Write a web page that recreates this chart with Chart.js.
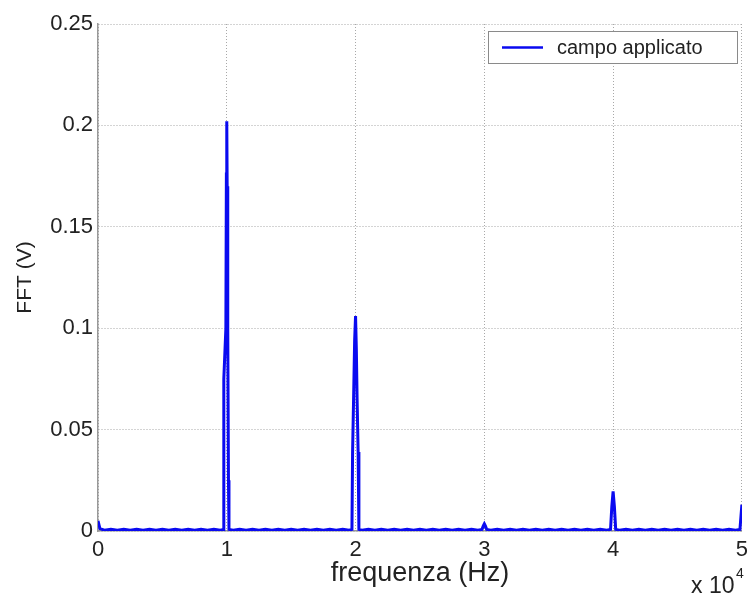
<!DOCTYPE html>
<html>
<head>
<meta charset="utf-8">
<script src="https://cdn.jsdelivr.net/npm/chart.js@4"></script>
<style>
    html, body { margin: 0; padding: 0; background: #fff; }
    #wrap { width: 754px; height: 596px; }
</style>
</head>
<body>
<div id="wrap"><canvas id="fftChart" width="754" height="596"></canvas></div>
<script>
// frequency (Hz) and FFT amplitude (V)
const freqHz = [
    0, 150, 500, 1000, 1500, 2000, 2500, 3000, 3500, 4000, 4500, 5000, 5500, 6000, 6500, 7000, 7500, 8000, 8500, 9000, 9500,
    9740, 9770, 9930, 9970, 10000, 10030, 10060, 10090, 10130, 10170,
    10500, 11000, 11500, 12000, 12500, 13000, 13500, 14000, 14500, 15000, 15500, 16000, 16500, 17000, 17500, 18000, 18500, 19000, 19500,
    19720, 19770, 19850, 19930, 20000, 20060, 20120, 20200, 20260,
    20500, 21000, 21500, 22000, 22500, 23000, 23500, 24000, 24500, 25000, 25500, 26000, 26500, 27000, 27500, 28000, 28500, 29000, 29500,
    29820, 29920, 30000, 30080, 30180,
    30500, 31000, 31500, 32000, 32500, 33000, 33500, 34000, 34500, 35000, 35500, 36000, 36500, 37000, 37500, 38000, 38500, 39000, 39500,
    39800, 39900, 40000, 40100, 40200,
    40500, 41000, 41500, 42000, 42500, 43000, 43500, 44000, 44500, 45000, 45500, 46000, 46500, 47000, 47500, 48000, 48500, 49000, 49500,
    49850, 50000
];
const fftV = [
    0.005, 0.0012, 0.0004, 0.0009, 0.0004, 0.0009, 0.0004, 0.0009, 0.0004, 0.0009, 0.0004, 0.0009, 0.0004, 0.0009, 0.0004, 0.0009, 0.0004, 0.0009, 0.0004, 0.0009, 0.0004,
    0.0008, 0.075, 0.10, 0.176, 0.202, 0.17, 0.125, 0.10, 0.025, 0.0008,
    0.0004, 0.0009, 0.0004, 0.0009, 0.0004, 0.0009, 0.0004, 0.0009, 0.0004, 0.0009, 0.0004, 0.0009, 0.0004, 0.0009, 0.0004, 0.0009, 0.0004, 0.0009, 0.0004,
    0.0008, 0.039, 0.066, 0.094, 0.106, 0.09, 0.065, 0.039, 0.0008,
    0.0004, 0.0009, 0.0004, 0.0009, 0.0004, 0.0009, 0.0004, 0.0009, 0.0004, 0.0009, 0.0004, 0.0009, 0.0004, 0.0009, 0.0004, 0.0009, 0.0004, 0.0009, 0.0004,
    0.0008, 0.0025, 0.0035, 0.0025, 0.0008,
    0.0004, 0.0009, 0.0004, 0.0009, 0.0004, 0.0009, 0.0004, 0.0009, 0.0004, 0.0009, 0.0004, 0.0009, 0.0004, 0.0009, 0.0004, 0.0009, 0.0004, 0.0009, 0.0004,
    0.0008, 0.012, 0.0195, 0.012, 0.0008,
    0.0004, 0.0009, 0.0004, 0.0009, 0.0004, 0.0009, 0.0004, 0.0009, 0.0004, 0.0009, 0.0004, 0.0009, 0.0004, 0.0009, 0.0004, 0.0009, 0.0004, 0.0009, 0.0004,
    0.0008, 0.013
];
const xTicks = [0, 10000, 20000, 30000, 40000, 50000];
const yTicks = [0, 0.05, 0.1, 0.15, 0.2, 0.25];
const seriesName = 'campo applicato';

const FONT = "'Liberation Sans', Arial, Helvetica, sans-serif";
const LINE_BLUE = '#0a0af0';

const points = freqHz.map((f, i) => ({ x: f, y: fftV[i] }));

// legend box + "x 10^4" exponent, drawn MATLAB style
const extras = {
    id: 'extras',
    afterDraw(chart) {
        const ctx = chart.ctx;
        ctx.save();
        // legend
        ctx.fillStyle = '#fff';
        ctx.fillRect(488, 31, 249, 32);
        ctx.strokeStyle = '#8a8a8a';
        ctx.lineWidth = 1;
        ctx.strokeRect(488.5, 31.5, 249, 32);
        ctx.strokeStyle = LINE_BLUE;
        ctx.lineWidth = 2.5;
        ctx.beginPath();
        ctx.moveTo(502, 47.5);
        ctx.lineTo(543, 47.5);
        ctx.stroke();
        ctx.fillStyle = '#222';
        ctx.font = '20px ' + FONT;
        ctx.textBaseline = 'middle';
        ctx.textAlign = 'left';
        ctx.fillText(seriesName, 557, 48);
        // exponent
        ctx.font = '23px ' + FONT;
        ctx.textBaseline = 'alphabetic';
        ctx.fillText('x 10', 691, 593);
        ctx.font = '14px ' + FONT;
        ctx.fillText('4', 736, 578);
        ctx.restore();
    }
};

const ctx = document.getElementById('fftChart').getContext('2d');
const fftChart = new Chart(ctx, {
    type: 'line',
    data: {
        datasets: [{
            label: seriesName,
            data: points,
            borderColor: LINE_BLUE,
            borderWidth: 3,
            pointRadius: 0,
            tension: 0,
            fill: false
        }]
    },
    options: {
        responsive: false,
        animation: false,
        layout: { padding: { top: 24, right: 11, left: 0, bottom: 0 } },
        plugins: {
            legend: { display: false },
            tooltip: { enabled: false }
        },
        scales: {
            x: {
                type: 'linear',
                min: 0,
                max: 50000,
                afterBuildTicks: (axis) => { axis.ticks = xTicks.map(v => ({ value: v })); },
                afterFit: (axis) => { axis.height = 65; },
                ticks: {
                    padding: 6,
                    color: '#222',
                    font: { family: FONT, size: 22 },
                    maxRotation: 0,
                    callback: (v) => String(v / 10000)
                },
                grid: { color: '#a8a8a8', drawTicks: false },
                border: { display: true, color: '#999', width: 1.5, dash: [1, 2] },
                title: {
                    display: true,
                    text: 'frequenza (Hz)',
                    color: '#222',
                    font: { family: FONT, size: 27 },
                    padding: { top: 0, bottom: 6 }
                }
            },
            y: {
                min: 0,
                max: 0.25,
                afterBuildTicks: (axis) => { axis.ticks = yTicks.map(v => ({ value: v })); },
                afterFit: (axis) => { axis.width = 98; },
                ticks: {
                    padding: 5,
                    color: '#222',
                    font: { family: FONT, size: 22 },
                    callback: (v) => String(v)
                },
                grid: { color: '#a8a8a8', drawTicks: false },
                border: { display: true, color: '#999', width: 1.5, dash: [1, 2] },
                title: {
                    display: true,
                    text: 'FFT (V)',
                    color: '#222',
                    font: { family: FONT, size: 21 },
                    padding: { top: 13, bottom: 0 }
                }
            }
        }
    },
    plugins: [extras]
});
</script>
</body>
</html>
